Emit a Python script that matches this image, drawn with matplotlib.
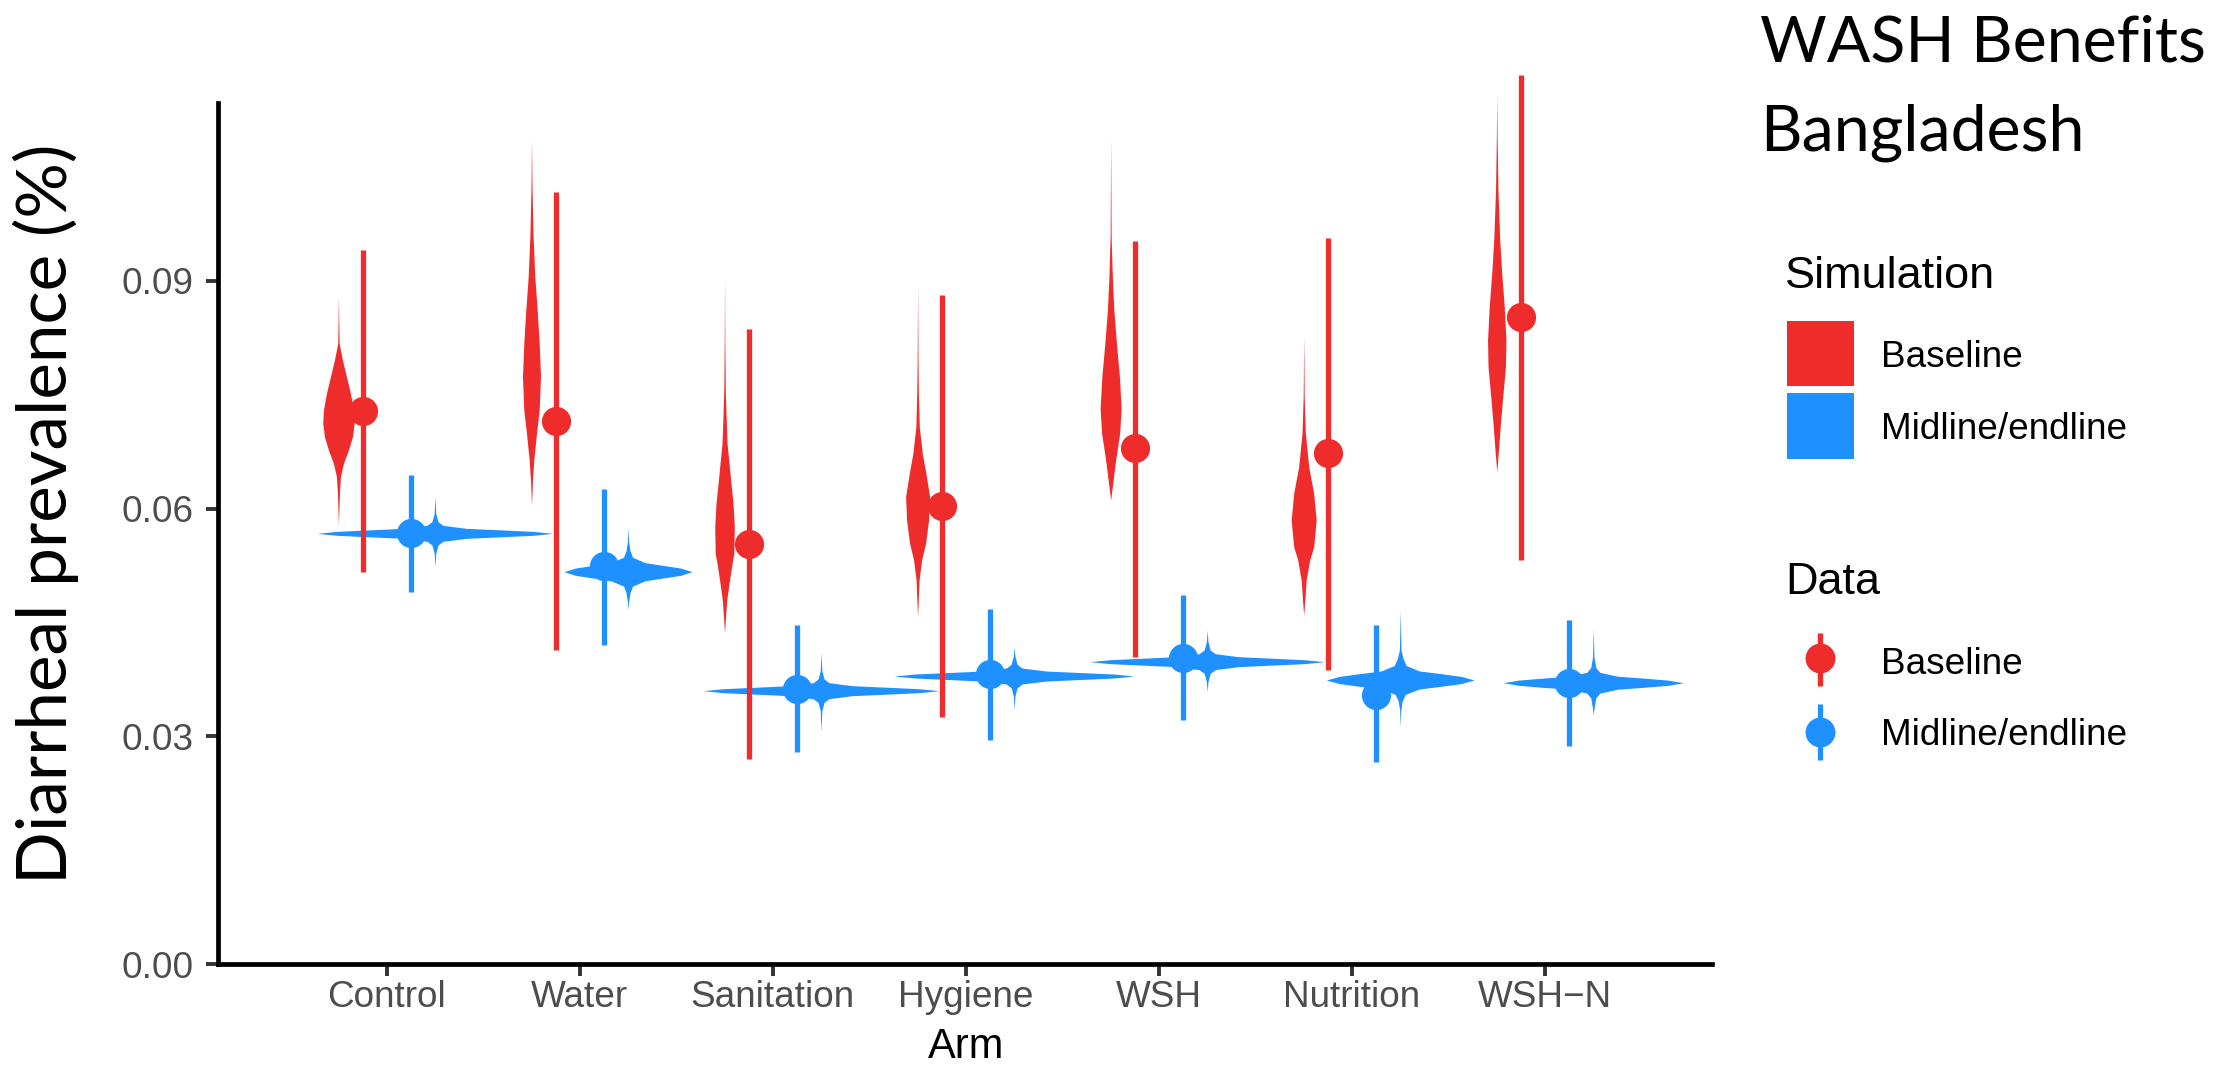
import matplotlib
matplotlib.use("Agg")
import matplotlib.pyplot as plt
from matplotlib.patches import Rectangle
import numpy as np

# ---------------- data ----------------
arms = ["Control", "Water", "Sanitation", "Hygiene", "WSH", "Nutrition", "WSH\u2212N"]

# observed data (point + interval)
data_base = [0.0729, 0.0715, 0.0554, 0.0603, 0.0680, 0.0673, 0.0852]
data_base_lo = [0.0516, 0.0414, 0.0271, 0.0326, 0.0405, 0.0388, 0.0533]
data_base_hi = [0.0941, 0.1017, 0.0836, 0.0881, 0.0953, 0.0956, 0.1171]
data_mid = [0.0568, 0.0525, 0.0363, 0.0382, 0.0403, 0.0355, 0.0371]
data_mid_lo = [0.0490, 0.0421, 0.0279, 0.0295, 0.0322, 0.0267, 0.0287]
data_mid_hi = [0.0644, 0.0626, 0.0447, 0.0468, 0.0486, 0.0447, 0.0453]

# simulated distributions (violin profiles: prevalence values and density)
sim_base_values = [
    [0.05785, 0.06202, 0.06422, 0.06597, 0.06773, 0.06948, 0.07124, 0.07299, 0.07519, 0.07738, 0.07958, 0.08177, 0.08500, 0.08791],
    [0.06048, 0.06377, 0.06641, 0.06992, 0.07299, 0.07738, 0.08177, 0.08616, 0.09055, 0.09626, 0.10240, 0.10855],
    [0.04359, 0.04578, 0.04798, 0.05062, 0.05237, 0.05412, 0.05763, 0.06071, 0.06422, 0.06861, 0.07519, 0.08177, 0.09055],
    [0.04578, 0.04798, 0.05062, 0.05325, 0.05544, 0.05851, 0.06158, 0.06466, 0.06729, 0.07080, 0.07519, 0.07958, 0.08958],
    [0.06114, 0.06377, 0.06641, 0.06992, 0.07321, 0.07738, 0.08177, 0.08616, 0.09055, 0.09582, 0.10877],
    [0.04600, 0.04798, 0.05062, 0.05325, 0.05499, 0.05851, 0.06202, 0.06553, 0.06992, 0.07475, 0.08287],
    [0.06487, 0.06816, 0.07124, 0.07519, 0.07870, 0.08221, 0.08661, 0.09100, 0.09539, 0.10197, 0.10855, 0.11448],
]
sim_base_density = [
    [0, 1, 2, 5, 10, 14, 15.7, 15, 12, 8, 4, 0.7, 0.3, 0],
    [0, 1, 2.3, 5, 7.7, 9, 7.7, 5.7, 3.3, 1.5, 0.5, 0],
    [0, 1, 2.2, 5, 7, 9.3, 9.8, 8.5, 5.8, 2.5, 0.8, 0.3, 0],
    [0, 0.7, 1.5, 4, 8, 11, 12, 8.3, 4.7, 1.7, 0.8, 0.4, 0],
    [0, 2.5, 5, 9, 10.5, 8.8, 5.8, 3.2, 1.7, 0.5, 0],
    [0, 1.2, 2.5, 6, 10, 12.5, 10, 5, 1.7, 0.5, 0],
    [0, 2, 3.7, 6.3, 8.7, 9.2, 7.5, 5, 3, 1.2, 0.4, 0],
]
sim_mid_values = [
    [0.05235, 0.05412, 0.05521, 0.05570, 0.05609, 0.05629, 0.05649, 0.05675, 0.05701, 0.05721, 0.05741, 0.05780, 0.05829, 0.05938, 0.06157],
    [0.04666, 0.04775, 0.04893, 0.04980, 0.05051, 0.05087, 0.05123, 0.05170, 0.05217, 0.05253, 0.05289, 0.05360, 0.05447, 0.05565, 0.05763],
    [0.03063, 0.03340, 0.03449, 0.03498, 0.03537, 0.03557, 0.03577, 0.03603, 0.03629, 0.03649, 0.03669, 0.03708, 0.03757, 0.03866, 0.04099],
    [0.03349, 0.03533, 0.03642, 0.03691, 0.03730, 0.03750, 0.03770, 0.03796, 0.03822, 0.03842, 0.03862, 0.03901, 0.03950, 0.04059, 0.04174],
    [0.03590, 0.03722, 0.03831, 0.03880, 0.03919, 0.03939, 0.03959, 0.03985, 0.04011, 0.04031, 0.04051, 0.04090, 0.04139, 0.04248, 0.04402],
    [0.03129, 0.03349, 0.03467, 0.03554, 0.03625, 0.03661, 0.03697, 0.03744, 0.03791, 0.03827, 0.03863, 0.03934, 0.04021, 0.04139, 0.04666],
    [0.03283, 0.03366, 0.03508, 0.03571, 0.03622, 0.03647, 0.03674, 0.03708, 0.03742, 0.03769, 0.03794, 0.03845, 0.03908, 0.04050, 0.04424],
]
sim_mid_density = [
    [0, 0.8, 3, 8, 31, 65, 98, 118, 98, 65, 31, 8, 3, 0.8, 0],
    [0, 0.6, 2, 4.5, 17, 35, 53, 64, 53, 35, 17, 4.5, 2, 0.6, 0],
    [0, 0.8, 3, 8, 31, 65, 98, 118, 98, 65, 31, 8, 3, 0.8, 0],
    [0, 0.8, 3, 8, 32, 66, 100, 120, 100, 66, 32, 8, 3, 0.8, 0],
    [0, 0.8, 3, 8, 31, 64, 97, 117.5, 97, 64, 31, 8, 3, 0.8, 0],
    [0, 0.6, 2, 5, 19, 41, 61, 74, 61, 41, 19, 6, 3, 0.8, 0],
    [0, 0.7, 2.5, 6.5, 24, 50, 75, 90, 75, 50, 24, 6.5, 2.5, 0.7, 0],
]

yticks = [0.00, 0.03, 0.06, 0.09]
ytick_labels = ["0.00", "0.03", "0.06", "0.09"]

# ---------------- style ----------------
RED = "#EE2C2C"
BLUE = "#1E90FF"
SANS = ["Liberation Sans", "DejaVu Sans"]
TITLE_FONT = ["Lato", "DejaVu Sans"]
W, H = 2235, 1070

fig = plt.figure(figsize=(W / 100, H / 100), dpi=100)
fig.patch.set_facecolor("white")

ax_l, ax_r, ax_t, ax_b = 218, 1712, 103, 964.3
ax = fig.add_axes([ax_l / W, (H - ax_b) / H, (ax_r - ax_l) / W, (ax_b - ax_t) / H])
unit_px = 193.05
ax.set_xlim(1 - (386.7 - ax_l) / unit_px, 7 + (ax_r - 1545) / unit_px)
ax.set_ylim(0, (ax_b - ax_t) / 7594.0)

x = np.arange(1, len(arms) + 1)
dens_to_x = 1.0 / unit_px
off_violin, off_point = 0.25, 0.125

for i in range(len(arms)):
    v = np.array(sim_base_values[i])
    d = np.array(sim_base_density[i]) * dens_to_x
    ax.fill_betweenx(v, x[i] - off_violin - d, x[i] - off_violin + d,
                     color=RED, lw=0, zorder=2, clip_on=False)
    v = np.array(sim_mid_values[i])
    d = np.array(sim_mid_density[i]) * dens_to_x
    ax.fill_betweenx(v, x[i] + off_violin - d, x[i] + off_violin + d,
                     color=BLUE, lw=0, zorder=2, clip_on=False)

ax.vlines(x - off_point, data_base_lo, data_base_hi, colors=RED, linewidth=3.8,
          capstyle="butt", zorder=3, clip_on=False)
ax.plot(x - off_point, data_base, "o", ms=21, color=RED, mec="none", zorder=4, clip_on=False)
ax.vlines(x + off_point, data_mid_lo, data_mid_hi, colors=BLUE, linewidth=3.8,
          capstyle="butt", zorder=3, clip_on=False)
ax.plot(x + off_point, data_mid, "o", ms=21, color=BLUE, mec="none", zorder=4, clip_on=False)

for s in ["top", "right"]:
    ax.spines[s].set_visible(False)
for s in ["left", "bottom"]:
    ax.spines[s].set_linewidth(3.4)
    ax.spines[s].set_color("black")

ax.set_xticks(x)
ax.set_xticklabels(arms, fontfamily=SANS)
ax.set_yticks(yticks)
ax.set_yticklabels(ytick_labels, fontfamily=SANS)
ax.tick_params(axis="both", length=8.9, width=2.8, color="#333333",
               labelcolor="#4D4D4D", labelsize=26.6)
ax.tick_params(axis="x", pad=2.5)
ax.tick_params(axis="y", pad=8.4)

# ---------------- overlay (titles, legend) ----------------
ov = fig.add_axes([0, 0, 1, 1])
ov.set_xlim(0, W)
ov.set_ylim(H, 0)
ov.axis("off")
ov.set_facecolor("none")

ov.text(966, 1058, "Arm", fontsize=30, family=SANS, ha="center", va="baseline", color="black")

ylab = ov.text(67, 513.5, "Diarrheal prevalence (%)", rotation=90, rotation_mode="anchor",
               ha="center", va="baseline", fontsize=48, family=TITLE_FONT, color="black")
t1 = ov.text(1760, 61, "WASH Benefits", fontsize=48, family=TITLE_FONT, ha="left",
             va="baseline", color="black")
t2 = ov.text(1760, 150, "Bangladesh", fontsize=48, family=TITLE_FONT, ha="left",
             va="baseline", color="black")
fig.canvas.draw()
r = fig.canvas.get_renderer()
bb = ylab.get_window_extent(r)
ylab.set_fontsize(48 * 741.0 / bb.height)
bb = t1.get_window_extent(r)
fs_t = 48 * 446.0 / bb.width
t1.set_fontsize(fs_t)
t2.set_fontsize(fs_t)

# legend: Simulation
ov.text(1785, 288, "Simulation", fontsize=32.4, family=SANS, ha="left", va="baseline")
ov.add_patch(Rectangle((1787, 321), 66.6, 65, color=RED, lw=0))
ov.add_patch(Rectangle((1787, 393), 66.6, 66, color=BLUE, lw=0))
ov.text(1881, 367, "Baseline", fontsize=26.6, family=SANS, ha="left", va="baseline")
ov.text(1881, 439, "Midline/endline", fontsize=26.6, family=SANS, ha="left", va="baseline")

# legend: Data
ov.text(1785, 594, "Data", fontsize=32.4, family=SANS, ha="left", va="baseline")
ov.plot([1819.5, 1819.5], [633, 686], color=RED, lw=3.8, solid_capstyle="butt")
ov.plot([1819.5], [658], "o", ms=21.5, color=RED, mec="none")
ov.text(1881, 673.5, "Baseline", fontsize=26.6, family=SANS, ha="left", va="baseline")
ov.plot([1819.5, 1819.5], [704, 760], color=BLUE, lw=3.8, solid_capstyle="butt")
ov.plot([1819.5], [732], "o", ms=21.5, color=BLUE, mec="none")
ov.text(1881, 745, "Midline/endline", fontsize=26.6, family=SANS, ha="left", va="baseline")

fig.savefig("out.png", dpi=100, facecolor="white")
